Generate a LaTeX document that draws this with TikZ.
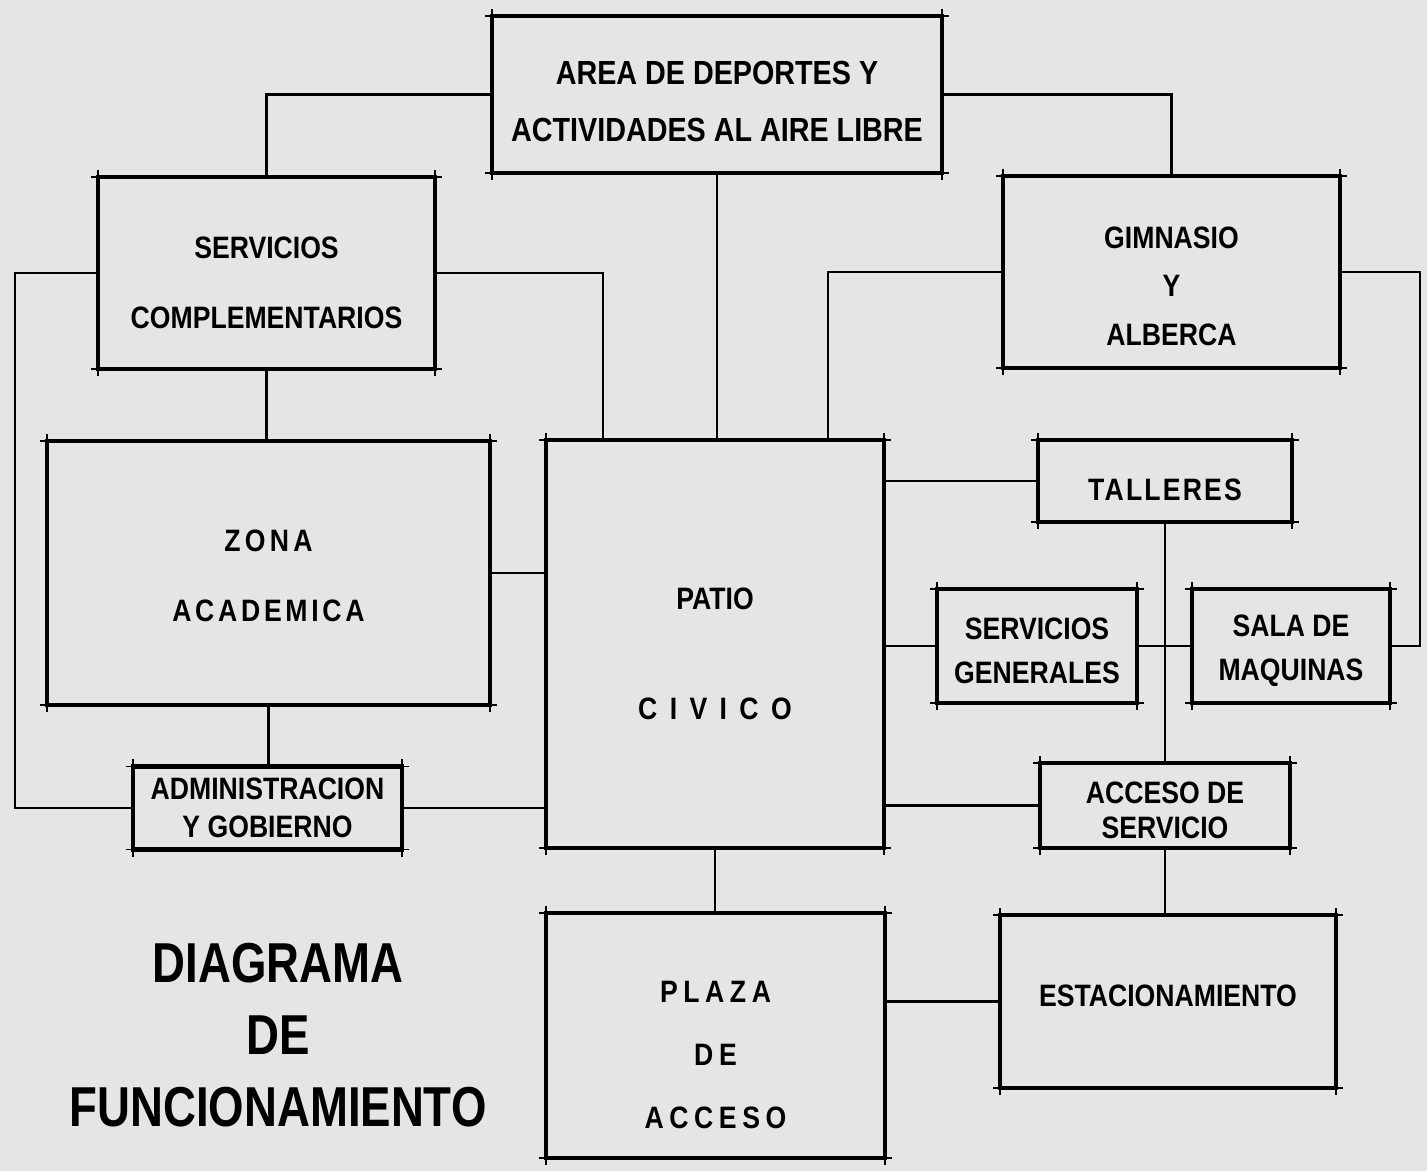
\documentclass[tikz,border=0pt]{standalone}
\usepackage{fontspec}
\usepackage{tikz}
\usetikzlibrary{calc}
\newfontfamily\boxfont[FakeStretch=0.86]{Liberation Sans}
\newfontfamily\titlefont[FakeStretch=0.81]{Liberation Sans}
\definecolor{paper}{gray}{0.9}
% invisible strut that pushes the lettering down inside a box
\newcommand\textdrop[1]{\rule{0pt}{#1}}

\begin{document}
\begin{tikzpicture}[x=0.01cm, y=-0.01cm,
  box/.style={draw, line width=1.3pt, outer sep=0pt, inner sep=0pt, align=center,
    font=\boxfont\bfseries\fontsize{8.8pt}{#1}\selectfont},
  box/.default=11pt,
  link/.style={line width=0.6pt},
  overshoot/.style={line width=0.5pt}]
\useasboundingbox (0,0) rectangle (1427,1171);
\fill[paper] (0,0) rectangle (1427,1171);

% upper row
\node[box, font=\boxfont\bfseries\fontsize{9.5pt}{16.2pt}\selectfont,
  minimum width=4.50cm, minimum height=1.57cm] (area) at (717,94.5)
  {\textdrop{10.8pt}AREA DE DEPORTES Y\\ACTIVIDADES AL AIRE LIBRE};
\node[box=19.9pt, minimum width=3.37cm, minimum height=1.92cm] (servc) at (266.5,273)
  {\textdrop{11.7pt}SERVICIOS\\COMPLEMENTARIOS};
\node[box=13.7pt, minimum width=3.37cm, minimum height=1.92cm] (gim) at (1171.5,272)
  {\textdrop{14.3pt}GIMNASIO\\Y\\ALBERCA};

% middle
\node[box=19.9pt, minimum width=4.43cm, minimum height=2.64cm] (zona) at (268.5,573)
  {\addfontfeature{LetterSpace=14}\textdrop{8pt}ZONA\\\addfontfeature{LetterSpace=12}ACADEMICA};
\node[box=31.3pt, minimum width=3.38cm, minimum height=4.08cm] (patio) at (715,644)
  {\textdrop{12pt}PATIO\\\addfontfeature{LetterSpace=40}CIVICO};
\node[box, minimum width=2.54cm, minimum height=0.82cm] (talleres) at (1165,481)
  {\addfontfeature{LetterSpace=7}\textdrop{11.3pt}TALLERES};
\node[box=12.5pt, minimum width=2.00cm, minimum height=1.14cm] (servg) at (1037,646)
  {\textdrop{9.1pt}SERVICIOS\\GENERALES};
\node[box=12.5pt, minimum width=1.98cm, minimum height=1.14cm] (sala) at (1291,646)
  {\textdrop{9.1pt}SALA DE\\MAQUINAS};
\node[box=10.8pt, minimum width=2.69cm, minimum height=0.83cm] (admin) at (267.5,808)
  {ADMINISTRACION\\Y GOBIERNO};
\node[box=10pt, minimum width=2.50cm, minimum height=0.85cm] (accs) at (1165,805.5)
  {\textdrop{9.1pt}ACCESO DE\\SERVICIO};

% lower row
\node[box=18pt, minimum width=3.39cm, minimum height=2.45cm] (plaza) at (715.5,1035.5)
  {\addfontfeature{LetterSpace=18}\textdrop{17.1pt}PLAZA\\\addfontfeature{LetterSpace=18}DE\\\addfontfeature{LetterSpace=18}ACCESO};
\node[box, text depth=3.4pt, minimum width=3.36cm, minimum height=1.73cm] (estac) at (1168,1001.5)
  {ESTACIONAMIENTO};
\node[align=center, font=\titlefont\bfseries\fontsize{16pt}{20.5pt}\selectfont] (titulo) at (278,1035)
  {DIAGRAMA\\DE\\FUNCIONAMIENTO};

% hand drawn corners
\foreach \n in {area,servc,gim,zona,patio,talleres,servg,sala,admin,accs,estac,plaza}{
  \draw[overshoot] ([xshift=-2pt]\n.north west) -- ([xshift=2pt]\n.north east);
  \draw[overshoot] ([xshift=-2pt]\n.south west) -- ([xshift=2pt]\n.south east);
  \draw[overshoot] ([yshift=2pt]\n.north west) -- ([yshift=-2pt]\n.south west);
  \draw[overshoot] ([yshift=2pt]\n.north east) -- ([yshift=-2pt]\n.south east);
}

% connections
\draw[link] (area.west) -| (servc.north);
\draw[link] (area.east) -| (gim.north);
\draw[link] (area.south) -- (area.south |- patio.north);
\draw[link] (servc.east) -| ([xshift=0.57cm]patio.north west);
\draw[link] (gim.west) -| ([xshift=-0.56cm]patio.north east);
\draw[link] (servc.south) -- (servc.south |- zona.north);
\draw[link] (zona.south) -- (zona.south |- admin.north);
\draw[link] (zona.east) -- (zona.east -| patio.west);
\draw[link] (admin.east) -- (admin.east -| patio.west);
\draw[link] (servc.west) -- ++(-83,0) |- (admin.west);
\draw[link] (gim.east) -- ++(80,0) |- (sala.east);
\draw[link] (talleres.west -| patio.east) -- (talleres.west);
\draw[link] (servg.west -| patio.east) -- (servg.west);
\draw[link] (accs.west -| patio.east) -- (accs.west);
\draw[link] (talleres.south) -- (accs.north);
\draw[link] (servg.east) -- (sala.west);
\draw[link] (accs.south) -- (accs.south |- estac.north);
\draw[link] (patio.south) -- (patio.south |- plaza.north);
\draw[link] (estac.west -| plaza.east) -- (estac.west);
\end{tikzpicture}
\end{document}
